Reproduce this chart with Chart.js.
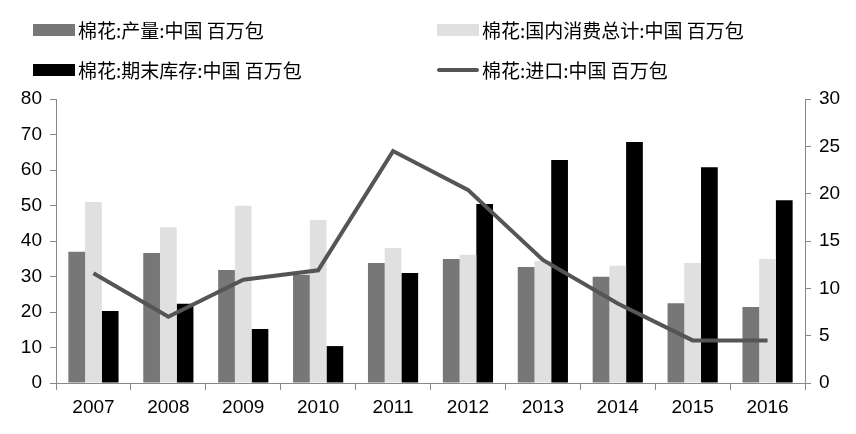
<!DOCTYPE html>
<html>
<head>
<meta charset="utf-8">
<script src="https://cdn.jsdelivr.net/npm/chart.js@4"></script>
<style>
  body { margin: 0; background: #fff; }
  #wrap { position: relative; width: 856px; height: 434px; }
  #legend { position: absolute; left: 0; top: 0; width: 856px; height: 90px;
            font-family: "Noto Sans CJK SC", sans-serif; font-size: 19px; color: #000; }
  .item { position: absolute; display: flex; align-items: center; white-space: nowrap; }
  .swatch { width: 42px; height: 12px; margin-right: 3px; }
  .swatch.line { height: 4px; border-radius: 2px; }
</style>
</head>
<body>
<div id="wrap">
  <canvas id="myChart" width="856" height="434"></canvas>
  <div id="legend"></div>
</div>
<script>
const years = ['2007', '2008', '2009', '2010', '2011', '2012', '2013', '2014', '2015', '2016'];
const production = [37, 36.6, 31.8, 30.5, 33.8, 34.9, 32.7, 29.9, 22.5, 21.4];
const consumption = [51, 43.9, 49.9, 45.9, 38, 36.1, 34.4, 33, 33.8, 34.9];
const endingStocks = [20.3, 22.3, 15.2, 10.4, 31, 50.4, 62.8, 67.9, 60.8, 51.5];
const imports = [11.6, 7, 10.9, 11.9, 24.5, 20.4, 13, 8.4, 4.5, 4.5];

const tickFont = { family: 'Liberation Sans', size: 19 };

const ctx = document.getElementById('myChart').getContext('2d');
const chart = new Chart(ctx, {
  type: 'bar',
  data: {
    labels: years,
    datasets: [
      { type: 'line', label: '棉花:进口:中国 百万包', data: imports, yAxisID: 'y1',
        borderColor: '#555555', backgroundColor: '#555555', borderWidth: 4,
        pointRadius: 0, tension: 0, order: 0 },
      { label: '棉花:产量:中国 百万包', data: production, backgroundColor: '#777777', yAxisID: 'y', order: 1 },
      { label: '棉花:国内消费总计:中国 百万包', data: consumption, backgroundColor: '#e0e0e0', yAxisID: 'y', order: 1 },
      { label: '棉花:期末库存:中国 百万包', data: endingStocks, backgroundColor: '#000000', yAxisID: 'y', order: 1 }
    ]
  },
  options: {
    responsive: false,
    animation: false,
    datasets: { bar: { categoryPercentage: 0.67, barPercentage: 1.0 } },
    layout: { padding: { top: 99, left: 0, right: 0, bottom: 0 } },
    plugins: { legend: { display: false }, tooltip: { enabled: false } },
    scales: {
      x: {
        grid: { display: true, drawOnChartArea: false, drawTicks: true, tickLength: 7, color: '#888' },
        border: { color: '#888', width: 1 },
        ticks: { font: tickFont, color: '#000', padding: 6 },
        afterFit: s => { s.height = 51; }
      },
      y: {
        position: 'left', min: 0, max: 80,
        grid: { display: true, drawOnChartArea: false, drawTicks: true, tickLength: 6, color: '#888' },
        border: { color: '#888', width: 1 },
        ticks: { stepSize: 10, font: tickFont, color: '#000', padding: 8 },
        afterFit: s => { s.width = 56; }
      },
      y1: {
        position: 'right', min: 0, max: 30,
        grid: { display: true, drawOnChartArea: false, drawTicks: true, tickLength: 6, color: '#888' },
        border: { color: '#888', width: 1 },
        ticks: { stepSize: 5, font: tickFont, color: '#000', padding: 8 },
        afterFit: s => { s.width = 51; }
      }
    }
  }
});

// legend in two columns, built from the dataset labels
const legendPos = [
  { idx: 1, x: 33, y: 30 },
  { idx: 2, x: 437, y: 30 },
  { idx: 3, x: 33, y: 70 },
  { idx: 0, x: 437, y: 70 }
];
const legendEl = document.getElementById('legend');
legendPos.forEach(p => {
  const ds = chart.data.datasets[p.idx];
  const item = document.createElement('div');
  item.className = 'item';
  item.style.left = p.x + 'px';
  item.style.top = (p.y - 14) + 'px';
  const sw = document.createElement('span');
  sw.className = 'swatch' + (ds.type === 'line' ? ' line' : '');
  sw.style.background = ds.backgroundColor;
  const txt = document.createElement('span');
  txt.textContent = ds.label;
  item.appendChild(sw);
  item.appendChild(txt);
  legendEl.appendChild(item);
});
</script>
</body>
</html>
